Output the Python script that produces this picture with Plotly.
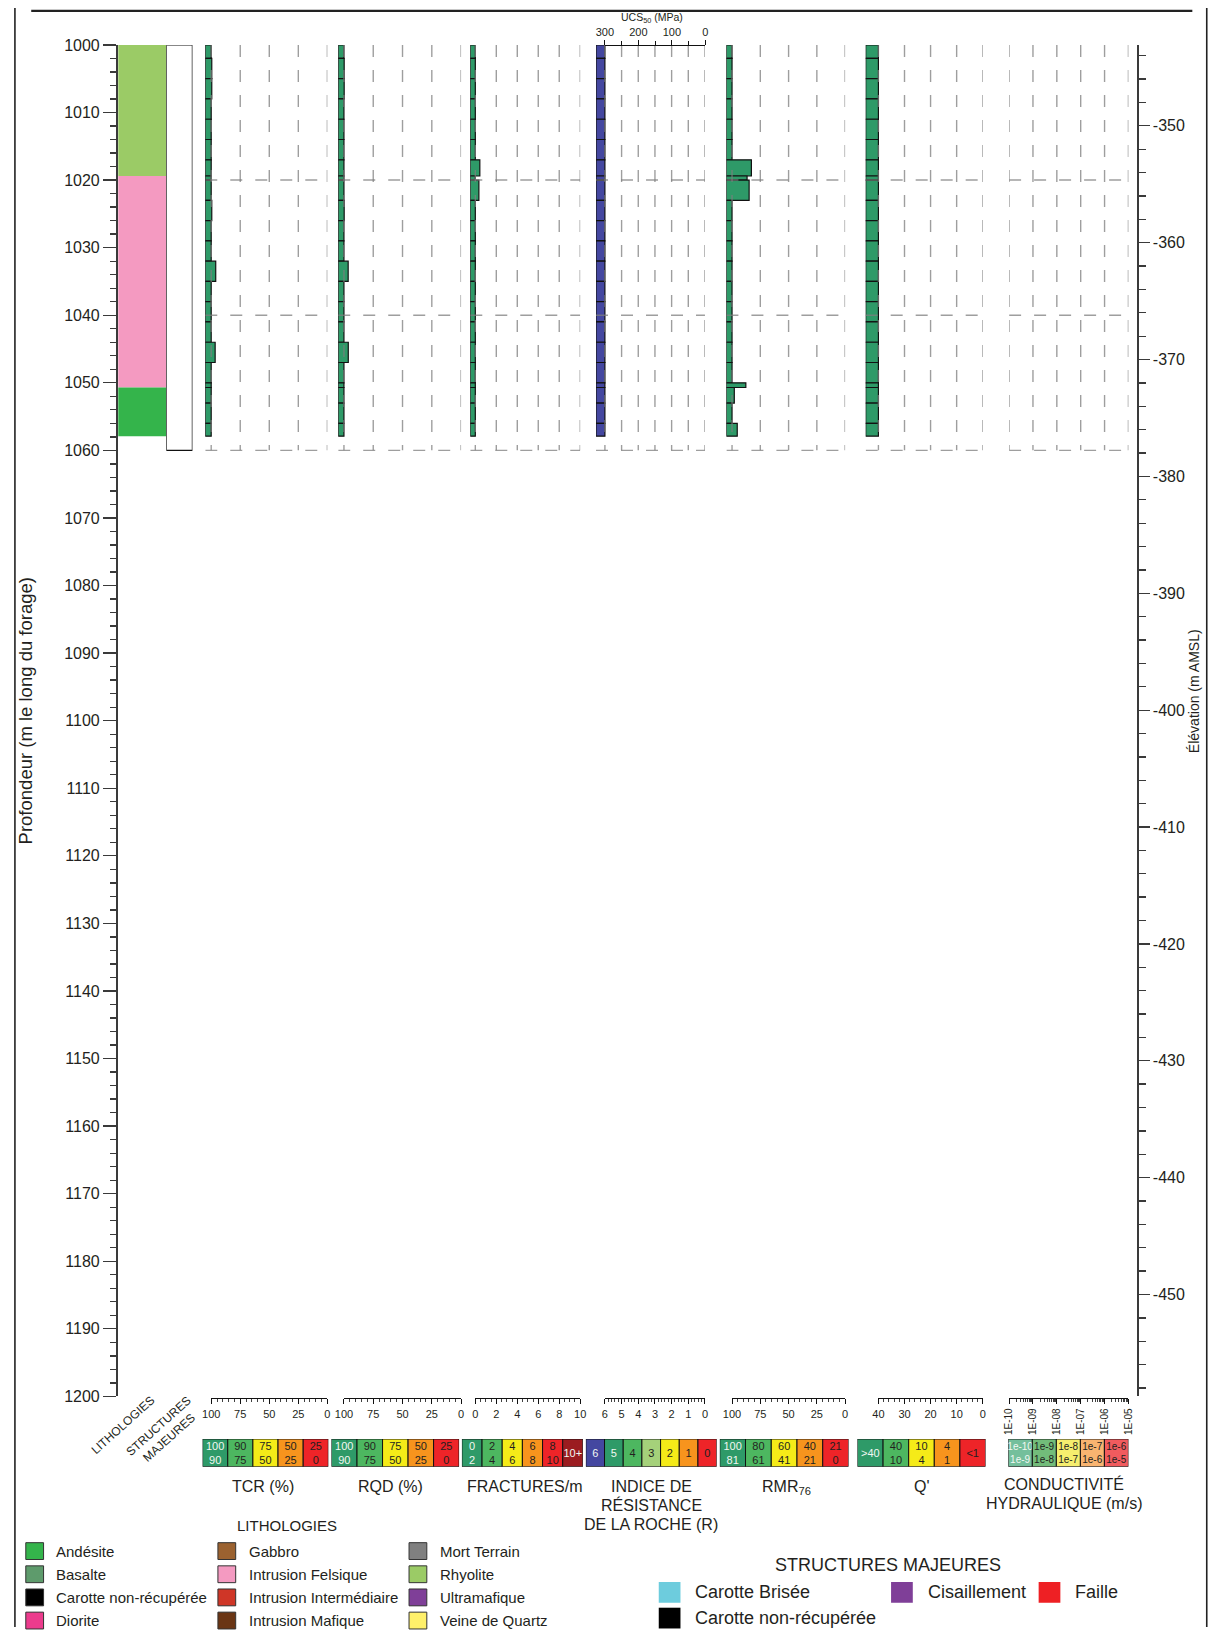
import plotly.graph_objects as go

# ======================= DATA =======================
depth_top = [1000, 1002, 1005, 1008, 1011, 1014, 1017, 1019.4, 1020, 1023, 1026,
             1029, 1032, 1035, 1038, 1041, 1044, 1047, 1050, 1050.7, 1053, 1056]
depth_bottom = [1002, 1005, 1008, 1011, 1014, 1017, 1019.4, 1020, 1023, 1026, 1029,
                1032, 1035, 1038, 1041, 1044, 1047, 1050, 1050.7, 1053, 1056, 1057.9]
tcr = [100, 99.5, 99.5, 100, 100, 100, 100, 100, 100, 99.5, 100,
       100, 96.1, 100, 100, 100, 96.6, 100, 100, 100, 100, 100]
rqd = [100, 99.8, 99.8, 100, 100, 100, 100, 100, 100, 99.8, 100,
       100, 96.4, 100, 100, 100, 96.3, 100, 100, 100, 100, 100]
fractures = [0, 0, 0, 0, 0, 0, 0.43, 0, 0.34, 0, 0,
             0, 0, 0, 0, 0, 0, 0, 0, 0, 0, 0]
r_index = [6, 6, 6, 6, 6, 6, 6, 6, 6, 6, 6,
           6, 6, 6, 6, 6, 6, 6, 6, 6, 6, 6]
rmr = [100, 100, 100, 100, 100, 100, 82.9, 86.7, 84.9, 100, 100,
       100, 100, 100, 100, 100, 100, 100, 87.8, 98.0, 100, 95.4]
q_prime = [40, 40, 40, 40, 40, 40, 40, 40, 40, 40, 40,
           40, 40, 40, 40, 40, 40, 40, 40, 40, 40, 40]

lith_top = [1000, 1019.4, 1050.7]
lith_bottom = [1019.4, 1050.7, 1057.9]
lith_unit = ["Rhyolite", "Intrusion Felsique", "Andésite"]

hole_top, hole_bottom = 1000, 1060
depth_range = [1000, 1200]
depth_grid = [1020, 1040, 1060]
elev_range = [-343.08, -458.72]          # elevation at depth 1000 and 1200
elev_ticks = [-350, -360, -370, -380, -390, -400, -410, -420, -430, -440, -450]

tcr_ticks = [100, 75, 50, 25, 0]
rqd_ticks = [100, 75, 50, 25, 0]
frac_ticks = [0, 2, 4, 6, 8, 10]
r_ticks = [6, 5, 4, 3, 2, 1, 0]
rmr_ticks = [100, 75, 50, 25, 0]
q_ticks = [40, 30, 20, 10, 0]
k_ticks = [1e-10, 1e-9, 1e-8, 1e-7, 1e-6, 1e-5]
k_ticktext = ["1E-10", "1E-09", "1E-08", "1E-07", "1E-06", "1E-05"]
ucs_ticks = [300, 200, 100, 0]

lith_legend_names = ["Andésite", "Basalte", "Carotte non-récupérée", "Diorite",
                     "Gabbro", "Intrusion Felsique", "Intrusion Intermédiaire", "Intrusion Mafique",
                     "Mort Terrain", "Rhyolite", "Ultramafique", "Veine de Quartz"]
lith_legend_colors = ["#34B44B", "#5E9B6C", "#000000", "#EC3B8D",
                      "#9B6230", "#F49AC1", "#CF3627", "#6A3514",
                      "#808080", "#9BCB66", "#7F3F98", "#FFF06A"]
struct_names = ["Carotte Brisée", "Cisaillement", "Faille", "Carotte non-récupérée"]
struct_colors = ["#6DCCDD", "#7F3F98", "#EE2024", "#000000"]

DG, G, Y_, O, R_, DR, B, LG = ("#2E9A68", "#4DB760", "#F5EB18", "#F7941D",
                               "#EE2428", "#9B1C20", "#4447A0", "#A5D17A")
WT, BK = "#F2F7F2", "#231F20"
tcr_key_labels = ["100<br>90", "90<br>75", "75<br>50", "50<br>25", "25<br>0"]
tcr_key_colors = [DG, G, Y_, O, R_]
tcr_key_text = [WT, BK, BK, BK, BK]
rqd_key_labels = ["100<br>90", "90<br>75", "75<br>50", "50<br>25", "25<br>0"]
rqd_key_colors = [DG, G, Y_, O, R_]
rqd_key_text = [WT, BK, BK, BK, BK]
frac_key_labels = ["0<br>2", "2<br>4", "4<br>6", "6<br>8", "8<br>10", "10+"]
frac_key_colors = [DG, G, Y_, O, R_, DR]
frac_key_text = [WT, BK, BK, BK, BK, WT]
r_key_labels = ["6", "5", "4", "3", "2", "1", "0"]
r_key_colors = [B, DG, G, LG, Y_, O, R_]
r_key_text = [WT, WT, BK, BK, BK, BK, BK]
rmr_key_labels = ["100<br>81", "80<br>61", "60<br>41", "40<br>21", "21<br>0"]
rmr_key_colors = [DG, G, Y_, O, R_]
rmr_key_text = [WT, BK, BK, BK, BK]
q_key_labels = ["&gt;40", "40<br>10", "10<br>4", "4<br>1", "&lt;1"]
q_key_colors = [DG, G, Y_, O, R_]
q_key_text = [WT, BK, BK, BK, BK]
k_key_labels = ["1e-10<br>1e-9", "1e-9<br>1e-8", "1e-8<br>1e-7", "1e-7<br>1e-6", "1e-6<br>1e-5"]
k_key_colors = ["#74BF9C", "#72BC7A", "#F6EE6E", "#F9B470", "#F15B5E"]
k_key_text = [WT, BK, BK, BK, BK]

# ======================= LAYOUT HELPERS =======================
W, H = 1225, 1636
FONT = "Liberation Sans, Arial, sans-serif"
INK = "#231F20"
GRID = "rgba(125,125,125,0.75)"
BAR_GREEN = "#2E9A68"
BAR_BLUE = "#4447A0"


def PX(x):
    return x / W


def PY(y):
    return 1 - y / H


PLOT_TOP, PLOT_BOT = 37.3, 1403.0
SCALE_Y = 1405.0

layout = dict(width=W, height=H, margin=dict(l=0, r=0, t=0, b=0),
              paper_bgcolor="white", plot_bgcolor="rgba(0,0,0,0)",
              showlegend=False, hovermode=False, barmode="overlay",
              font=dict(family=FONT, color=INK, size=12))
traces = []
shapes = []
annotations = []
nx = [0]


def new_xaxis(**kw):
    nx[0] += 1
    n = nx[0]
    layout["xaxis" if n == 1 else "xaxis%d" % n] = dict(fixedrange=True, showgrid=False,
                                                        zeroline=False, **kw)
    return "x" if n == 1 else "x%d" % n


def dummy(xref, x, y, yref="y"):
    traces.append(go.Scatter(x=[x], y=[y], xaxis=xref, yaxis=yref, mode="markers",
                             marker=dict(opacity=0, size=1), hoverinfo="skip"))


# depth axis (left)
layout["yaxis"] = dict(domain=[PY(PLOT_BOT), PY(PLOT_TOP)], range=[depth_range[1], depth_range[0]],
                       anchor="free", position=PX(108.3), side="left", fixedrange=True,
                       showline=True, linecolor="#3a3a3a", linewidth=1.6,
                       ticks="outside", ticklen=13, tickwidth=1.3, tickcolor="#3a3a3a",
                       tick0=1000, dtick=10, tickfont=dict(size=16, color=INK),
                       minor=dict(ticks="outside", ticklen=6, dtick=2, tickwidth=1.3,
                                  tickcolor="#3a3a3a"),
                       showgrid=False, zeroline=False)
# elevation axis (right)
layout["yaxis2"] = dict(overlaying="y", range=[elev_range[1], elev_range[0]],
                        anchor="free", position=PX(1142), side="right", fixedrange=True,
                        showline=True, linecolor="#3a3a3a", linewidth=1.6,
                        ticks="outside", ticklen=11, tickwidth=1.3, tickcolor="#3a3a3a",
                        tickvals=elev_ticks, ticktext=[str(v) for v in elev_ticks],
                        tickfont=dict(size=16, color=INK),
                        minor=dict(ticks="outside", ticklen=7, dtick=2, tickwidth=1.3,
                                   tickcolor="#3a3a3a"),
                        showgrid=False, zeroline=False)
# key row axis
layout["yaxis3"] = dict(domain=[PY(1474), PY(1446)], range=[0, 1], visible=False,
                        anchor="free", position=0, fixedrange=True)

mids = [(a + b) / 2 for a, b in zip(depth_top, depth_bottom)]
thick = [b - a for a, b in zip(depth_top, depth_bottom)]

# lithology column
lith_color = dict(zip(lith_legend_names, lith_legend_colors))
xl = new_xaxis(domain=[PX(110.5), PX(159.3)], range=[0, 1], visible=False, anchor="y")
traces.append(go.Bar(orientation="h", y=[(a + b) / 2 for a, b in zip(lith_top, lith_bottom)],
                     width=[b - a for a, b in zip(lith_top, lith_bottom)],
                     x=[1 for _ in lith_unit], base=[0 for _ in lith_unit],
                     marker=dict(color=[lith_color[u] for u in lith_unit],
                                 line=dict(width=0)),
                     xaxis=xl, yaxis="y", hoverinfo="skip"))
dummy(xl, 0.5, -400, "y2")

# structures column
xs = new_xaxis(domain=[PX(159.3), PX(185.7)], range=[0, 1], visible=False, anchor="y")
traces.append(go.Bar(orientation="h", y=[(hole_top + hole_bottom) / 2],
                     width=[hole_bottom - hole_top], x=[1], base=[0],
                     marker=dict(color="white", line=dict(color="#111", width=1.3)),
                     xaxis=xs, yaxis="y", hoverinfo="skip"))

# geotechnical tracks: px positions of bar start (pad), and value positions
tracks = [
    dict(values=tcr, color=BAR_GREEN, pad=198.7, p_left=204.7, p_right=322.3, v_left=100, v_right=0,
         ticks=tcr_ticks, minor=5),
    dict(values=rqd, color=BAR_GREEN, pad=333.3, p_left=339.1, p_right=457.7, v_left=100, v_right=0,
         ticks=rqd_ticks, minor=5),
    dict(values=fractures, color=BAR_GREEN, pad=467.0, p_left=472.1, p_right=578.3, v_left=0, v_right=10,
         ticks=frac_ticks, minor=0.5),
    dict(values=r_index, color=BAR_BLUE, pad=594.3, p_left=603.3, p_right=704.6, v_left=6, v_right=0,
         ticks=r_ticks, minor=0.2),
    dict(values=rmr, color=BAR_GREEN, pad=726.3, p_left=732.0, p_right=846.5, v_left=100, v_right=0,
         ticks=rmr_ticks, minor=5),
    dict(values=q_prime, color=BAR_GREEN, pad=867.3, p_left=880.2, p_right=985.8, v_left=40, v_right=0,
         ticks=q_ticks, minor=2),
]

grid_line = dict(color=GRID, width=1.4, dash="12px,13px")

for tr in tracks:
    slope = (tr["v_right"] - tr["v_left"]) / (tr["p_right"] - tr["p_left"])
    r_left = tr["v_left"] + (tr["pad"] - tr["p_left"]) * slope
    xb = new_xaxis(domain=[PX(tr["pad"]), PX(tr["p_right"])], range=[r_left, tr["v_right"]],
                   visible=False, anchor="y")
    gx, gy = [], []
    for v in tr["ticks"]:
        gx += [v, v, None]
        gy += [hole_top, hole_bottom, None]
    for d in depth_grid:
        gx += [r_left, tr["v_right"], None]
        gy += [d, d, None]
    traces.append(go.Scatter(x=gx, y=gy, xaxis=xb, yaxis="y", mode="lines", line=grid_line,
                             hoverinfo="skip"))
    vals = tr["values"]
    traces.append(go.Bar(orientation="h", y=mids, width=thick,
                         base=[r_left for _ in vals], x=[v - r_left for v in vals],
                         marker=dict(color=tr["color"], line=dict(color="#111", width=1.2)),
                         xaxis=xb, yaxis="y", hoverinfo="skip"))
    # bottom scale
    xsc = new_xaxis(domain=[PX(tr["p_left"]), PX(tr["p_right"])], range=[tr["v_left"], tr["v_right"]],
                    anchor="free", position=PY(SCALE_Y), side="bottom",
                    showline=True, linecolor="#111", linewidth=1,
                    ticks="outside", ticklen=5, tickwidth=1, tickcolor="#111",
                    tickvals=tr["ticks"], tickfont=dict(size=11, color=INK),
                    minor=dict(ticks="outside", ticklen=3, dtick=tr["minor"], tickwidth=0.8,
                               tickcolor="#111"))
    dummy(xsc, tr["v_left"], 1100)

# UCS50 top scale over the R track
xu = new_xaxis(domain=[PX(603.3), PX(705)], range=[300, 0], anchor="free", position=PY(PLOT_TOP),
               side="top", showline=True, linecolor="#111", linewidth=1,
               ticks="outside", ticklen=5, tickwidth=1, tickcolor="#111",
               tickvals=ucs_ticks, tickfont=dict(size=11, color=INK),
               minor=dict(ticks="outside", ticklen=4, dtick=50, tickwidth=1, tickcolor="#111"))
dummy(xu, 150, 1100)

# Hydraulic conductivity track (log, no data)
xk = new_xaxis(domain=[PX(1012.5), PX(1133.3)], type="log", range=[-10, -5], visible=False, anchor="y")
gx, gy = [], []
for v in k_ticks:
    gx += [v, v, None]
    gy += [hole_top, hole_bottom, None]
for d in depth_grid:
    gx += [k_ticks[0], k_ticks[-1], None]
    gy += [d, d, None]
traces.append(go.Scatter(x=gx, y=gy, xaxis=xk, yaxis="y", mode="lines", line=grid_line,
                         hoverinfo="skip"))
xks = new_xaxis(domain=[PX(1012.5), PX(1133.3)], type="log", range=[-10, -5], anchor="free",
                position=PY(SCALE_Y), side="bottom", showline=True, linecolor="#111", linewidth=1,
                ticks="outside", ticklen=5, tickwidth=1, tickcolor="#111",
                tickvals=k_ticks, ticktext=k_ticktext, tickangle=-90,
                tickfont=dict(size=10, color=INK),
                minor=dict(ticks="outside", ticklen=3, dtick="D1", tickwidth=0.8, tickcolor="#111"))
dummy(xks, 1e-8, 1100)

# colour keys under each track
keys = [
    (tcr_key_labels, tcr_key_colors, tcr_key_text, 196.0, 323.3, 11),
    (rqd_key_labels, rqd_key_colors, rqd_key_text, 326.5, 455.7, 11),
    (frac_key_labels, frac_key_colors, frac_key_text, 458.5, 581.0, 11),
    (r_key_labels, r_key_colors, r_key_text, 584.0, 716.4, 11),
    (rmr_key_labels, rmr_key_colors, rmr_key_text, 719.6, 849.9, 11),
    (q_key_labels, q_key_colors, q_key_text, 859.0, 988.6, 11),
    (k_key_labels, k_key_colors, k_key_text, 1011.7, 1133.3, 10),
]
for labels, colors, tcols, x0, x1, fs in keys:
    n = len(labels)
    xr = new_xaxis(domain=[PX(x0), PX(x1)], range=[0, n], visible=False, anchor="y3")
    traces.append(go.Bar(orientation="h", y=[0.5] * n, x=[1] * n, base=list(range(n)), width=1,
                         marker=dict(color=colors, line=dict(color="#111", width=1)),
                         text=labels, textposition="inside", insidetextanchor="middle",
                         textangle=0, constraintext="none",
                         textfont=dict(size=fs, color=tcols, family=FONT),
                         xaxis=xr, yaxis="y3", hoverinfo="skip"))


def ann(text, x, y, size=16, angle=0, xanchor="center", color=INK):
    annotations.append(dict(text=text, x=PX(x), y=PY(y), xref="paper", yref="paper",
                            showarrow=False, xanchor=xanchor, yanchor="middle",
                            textangle=angle, font=dict(size=size, color=color, family=FONT)))


# track titles
ann("TCR (%)", 257, 1494)
ann("RQD (%)", 386, 1494)
ann("FRACTURES/m", 522, 1494)
ann("INDICE DE", 650, 1494)
ann("RÉSISTANCE", 650, 1513)
ann("DE LA ROCHE (R)", 650, 1532)
ann("RMR<sub>76</sub>", 787, 1495)
ann("Q'", 924, 1494)
ann("CONDUCTIVITÉ", 1068, 1492)
ann("HYDRAULIQUE (m/s)", 1068, 1511)
ann("UCS<sub>50</sub> (MPa)", 651, 10.5, size=10.5)
ann("LITHOLOGIES", 115.5, 1432, size=12, angle=-42)
ann("STRUCTURES<br>MAJEURES", 157, 1439, size=12, angle=-42)
ann("Profondeur (m le long du forage)", 17, 710, size=18.5, angle=-90)
ann("Élévation (m AMSL)", 1200, 690, size=14, angle=-90)

# lithology legend
ann("LITHOLOGIES", 281, 1533, size=15)
col_x = [17.0, 211.5, 405.0]
for i, (name, colr) in enumerate(zip(lith_legend_names, lith_legend_colors)):
    col, row = divmod(i, 4)
    x0 = col_x[col]
    yc = 1559.3 + row * 23.4
    shapes.append(dict(type="rect", xref="paper", yref="paper", x0=PX(x0), x1=PX(x0 + 18),
                       y0=PY(yc + 8.5), y1=PY(yc - 8.5), fillcolor=colr,
                       line=dict(color="#333", width=1)))
    ann(name, x0 + 29, yc, size=15, xanchor="left")

# structures legend
ann("STRUCTURES MAJEURES", 890, 1573, size=18)
struct_pos = [(657.8, 1601), (893.0, 1601), (1042.4, 1601), (657.8, 1627)]
for name, colr, (x0, yc) in zip(struct_names, struct_colors, struct_pos):
    shapes.append(dict(type="rect", xref="paper", yref="paper", x0=PX(x0), x1=PX(x0 + 22),
                       y0=PY(yc + 10.5), y1=PY(yc - 10.5), fillcolor=colr,
                       line=dict(width=0)))
    ann(name, x0 + 35, yc, size=18, xanchor="left")

# page frame
shapes.append(dict(type="line", xref="paper", yref="paper", x0=PX(6), x1=PX(6), y0=0, y1=1,
                   line=dict(color="#222", width=1.6)))
shapes.append(dict(type="line", xref="paper", yref="paper", x0=PX(1212.6), x1=PX(1212.6), y0=0, y1=1,
                   line=dict(color="#222", width=1.6)))
shapes.append(dict(type="line", xref="paper", yref="paper", x0=PX(22.5), x1=PX(1198), y0=PY(3),
                   y1=PY(3), line=dict(color="#222", width=2.2)))

layout["shapes"] = shapes
layout["annotations"] = annotations

fig = go.Figure(data=traces, layout=layout)
fig.write_html("out.html", config=dict(displayModeBar=False, staticPlot=True),
               post_script="document.body.style.margin='0';document.body.style.overflow='hidden';")
